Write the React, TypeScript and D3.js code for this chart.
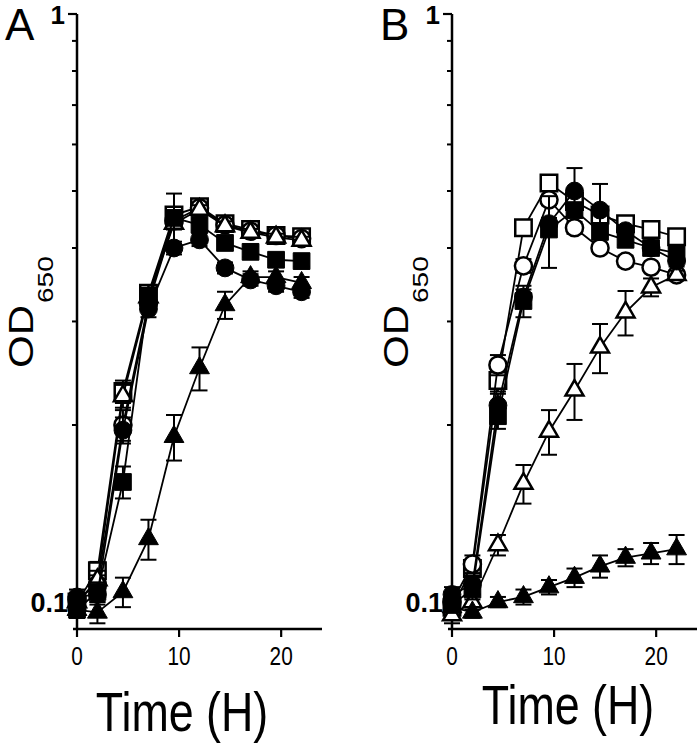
import React from 'react';
import * as d3 from 'd3';

const times = [0, 2, 4.5, 7, 9.5, 12, 14.5, 17, 19.5, 22];

// Panel A
const aOpenSquare = [0.100, 0.113, 0.228, 0.335, 0.455, 0.470, 0.440, 0.430, 0.420, 0.418];
const aOpenCircle = [0.101, 0.107, 0.200, 0.322, 0.445, 0.468, 0.438, 0.427, 0.420, 0.415];
const aOpenTriangle = [0.100, 0.109, 0.224, 0.330, 0.440, 0.465, 0.436, 0.425, 0.417, 0.412];
const aFilledSquare = [0.097, 0.104, 0.160, 0.332, 0.450, 0.438, 0.408, 0.394, 0.382, 0.380];
const aFilledCircle = [0.102, 0.103, 0.196, 0.315, 0.400, 0.413, 0.370, 0.353, 0.345, 0.337];
const aFilledTriangle = [0.097, 0.096, 0.104, 0.128, 0.191, 0.250, 0.320, 0.357, 0.357, 0.349];

const aOpenSquareErr = [0.002, 0.004, 0.010, 0.010, 0.010, 0.008, 0.008, 0.006, 0.006, 0.006];
const aOpenCircleErr = [0.002, 0.004, 0.012, 0.010, 0.010, 0.008, 0.008, 0.006, 0.006, 0.006];
const aOpenTriangleErr = [0.002, 0.004, 0.010, 0.010, 0.010, 0.008, 0.008, 0.006, 0.006, 0.006];
const aFilledSquareErr = [0.003, 0.004, 0.010, 0.010, 0.045, 0.010, 0.010, 0.008, 0.008, 0.008];
const aFilledCircleErr = [0.003, 0.004, 0.010, 0.010, 0.010, 0.010, 0.008, 0.008, 0.008, 0.008];
const aFilledTriangleErr = [0.003, 0.004, 0.006, 0.010, 0.017, 0.021, 0.017, 0.008, 0.008, 0.008];

// Panel B
const bOpenSquare = [0.098, 0.114, 0.238, 0.433, 0.516, 0.480, 0.455, 0.440, 0.430, 0.418];
const bOpenCircle = [0.100, 0.116, 0.253, 0.373, 0.483, 0.433, 0.400, 0.380, 0.371, 0.360];
const bFilledSquare = [0.099, 0.105, 0.207, 0.325, 0.430, 0.464, 0.426, 0.413, 0.400, 0.392];
const bFilledCircle = [0.103, 0.107, 0.216, 0.330, 0.440, 0.500, 0.464, 0.428, 0.400, 0.380];
const bOpenTriangle = [0.095, 0.100, 0.125, 0.159, 0.195, 0.229, 0.271, 0.311, 0.343, 0.360];
const bFilledTriangle = [0.098, 0.096, 0.100, 0.102, 0.106, 0.110, 0.115, 0.119, 0.121, 0.123];

const bOpenSquareErr = [0.002, 0.004, 0.010, 0.010, 0.010, 0.010, 0.008, 0.008, 0.006, 0.006];
const bOpenCircleErr = [0.002, 0.004, 0.010, 0.010, 0.010, 0.010, 0.008, 0.008, 0.006, 0.006];
const bFilledSquareErr = [0.003, 0.004, 0.010, 0.020, 0.060, 0.010, 0.010, 0.008, 0.008, 0.008];
const bFilledCircleErr = [0.003, 0.004, 0.010, 0.010, 0.010, 0.047, 0.050, 0.008, 0.008, 0.008];
const bOpenTriangleErr = [0.003, 0.003, 0.005, 0.012, 0.017, 0.025, 0.026, 0.027, 0.012, 0.006];
const bFilledTriangleErr = [0.002, 0.002, 0.002, 0.003, 0.003, 0.004, 0.005, 0.004, 0.005, 0.007];

const xTicks = [0, 10, 20];
const yMinorTicks = [0.2, 0.3, 0.4, 0.5, 0.6, 0.7, 0.8, 0.9];
const yMajorTicks = [0.1, 1];

type Shape = 'square' | 'circle' | 'triangle';
interface Series { values: number[]; err: number[]; shape: Shape; filled: boolean; }

const seriesA: Series[] = [
  { values: aOpenSquare, err: aOpenSquareErr, shape: 'square', filled: false },
  { values: aOpenCircle, err: aOpenCircleErr, shape: 'circle', filled: false },
  { values: aOpenTriangle, err: aOpenTriangleErr, shape: 'triangle', filled: false },
  { values: aFilledSquare, err: aFilledSquareErr, shape: 'square', filled: true },
  { values: aFilledCircle, err: aFilledCircleErr, shape: 'circle', filled: true },
  { values: aFilledTriangle, err: aFilledTriangleErr, shape: 'triangle', filled: true },
];
const seriesB: Series[] = [
  { values: bOpenSquare, err: bOpenSquareErr, shape: 'square', filled: false },
  { values: bOpenCircle, err: bOpenCircleErr, shape: 'circle', filled: false },
  { values: bOpenTriangle, err: bOpenTriangleErr, shape: 'triangle', filled: false },
  { values: bFilledSquare, err: bFilledSquareErr, shape: 'square', filled: true },
  { values: bFilledCircle, err: bFilledCircleErr, shape: 'circle', filled: true },
  { values: bFilledTriangle, err: bFilledTriangleErr, shape: 'triangle', filled: true },
];

const FONT = "'Liberation Sans', Arial, Helvetica, sans-serif";
const SX = 0.8;

const yScale = d3.scaleLog().domain([0.1, 1]).range([602, 14]);
const Y_AXIS_BOTTOM = 629;

const symPath = (shape: Shape, filled: boolean) => {
  if (shape === 'square') return d3.symbol(d3.symbolSquare, filled ? 280 : 270)()!;
  if (shape === 'circle') return d3.symbol(d3.symbolCircle, filled ? 250 : 230)()!;
  return d3.symbol(d3.symbolTriangle, filled ? 170 : 140)()!;
};

function Panel({ ox, series, letter, timeX, timeY }: { ox: number; series: Series[]; letter: string; timeX: number; timeY: number }) {
  const x = d3.scaleLinear().domain([0, 24]).range([ox, ox + 245]);
  const line = d3.line<number>().x((_, i) => x(times[i])).y((v) => yScale(v));
  const capW = 8;
  return (
    <g>
      {/* axes */}
      <line x1={ox} x2={ox} y1={yScale(1)} y2={Y_AXIS_BOTTOM} stroke="#000" strokeWidth={2.5} />
      <line x1={ox - 4} x2={x(24)} y1={Y_AXIS_BOTTOM} y2={Y_AXIS_BOTTOM} stroke="#000" strokeWidth={2.5} />
      {yMajorTicks.map((t) => (
        <line key={'M' + t} x1={ox - 9} x2={ox} y1={yScale(t)} y2={yScale(t)} stroke="#000" strokeWidth={2.2} />
      ))}
      {yMinorTicks.map((t) => (
        <line key={'m' + t} x1={ox - 5} x2={ox} y1={yScale(t)} y2={yScale(t)} stroke="#000" strokeWidth={2} />
      ))}
      {xTicks.map((t) => (
        <line key={'x' + t} x1={x(t)} x2={x(t)} y1={Y_AXIS_BOTTOM} y2={Y_AXIS_BOTTOM + 8} stroke="#000" strokeWidth={2.2} />
      ))}
      {xTicks.map((t) => (
        <text key={'xl' + t} transform={`translate(${x(t)},${Y_AXIS_BOTTOM + 36}) scale(${SX},1)`} textAnchor="middle"
          fontFamily={FONT} fontSize={26}>{t}</text>
      ))}
      <text x={ox - 12} y={yScale(1) + 10} textAnchor="end" fontFamily={FONT} fontWeight="bold" fontSize={26}>1</text>
      <text x={ox - 9} y={yScale(0.1) + 10} textAnchor="end" fontFamily={FONT} fontWeight="bold" fontSize={27}>0.1</text>
      <text x={ox - 72} y={40} fontFamily={FONT} fontSize={44}>{letter}</text>
      <text transform={`translate(${ox - 44},368) scale(0.82,1) rotate(-90)`} fontFamily={FONT} fontSize={42}>OD</text>
      <text transform={`translate(${ox - 24},303) scale(0.8,1) rotate(-90)`} fontFamily={FONT} fontSize={28}>650</text>
      <text transform={`translate(${timeX},${timeY}) scale(${SX},1)`} textAnchor="middle" fontFamily={FONT} fontSize={56}>Time (H)</text>

      {/* series */}
      {series.map((s, si) => (
        <g key={si}>
          <path d={line(s.values)!} fill="none" stroke="#000" strokeWidth={1.8} />
          {s.values.map((v, i) => {
            const cx = x(times[i]);
            const y1 = yScale(v + s.err[i]);
            const y2 = yScale(Math.max(0.05, v - s.err[i]));
            return (
              <g key={i}>
                <line x1={cx} x2={cx} y1={y1} y2={y2} stroke="#000" strokeWidth={2} />
                <line x1={cx - capW} x2={cx + capW} y1={y1} y2={y1} stroke="#000" strokeWidth={2} />
                <line x1={cx - capW} x2={cx + capW} y1={y2} y2={y2} stroke="#000" strokeWidth={2} />
              </g>
            );
          })}
          {s.values.map((v, i) => (
            <path key={'p' + i} d={symPath(s.shape, s.filled)} transform={`translate(${x(times[i])},${yScale(v)})`}
              fill={s.filled ? '#000' : '#fff'} stroke="#000" strokeWidth={s.filled ? 1 : 2.5} />
          ))}
        </g>
      ))}
    </g>
  );
}

export default function App() {
  return (
    <div style={{ position: 'absolute', left: 0, top: 0 }}>
      <svg width={700} height={753} viewBox="0 0 700 753" style={{ display: 'block', background: '#fff' }}>
        <rect width={700} height={753} fill="#fff" />
        <Panel ox={77} series={seriesA} letter="A" timeX={182} timeY={731} />
        <Panel ox={452} series={seriesB} letter="B" timeX={568} timeY={724} />
      </svg>
    </div>
  );
}
